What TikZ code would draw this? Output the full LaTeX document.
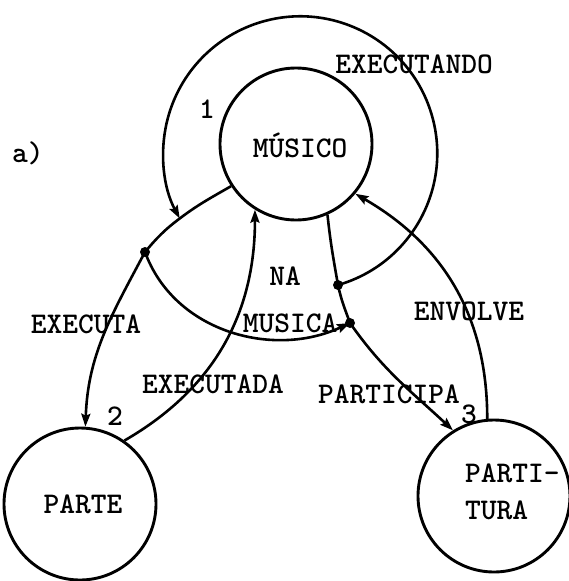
\documentclass[tikz,border=0pt]{standalone}
\usetikzlibrary{arrows.meta}
\begin{document}
\begin{tikzpicture}[x=1pt,y=1pt,
  state/.style={circle, draw, line width=2.9pt, minimum size=152pt, inner sep=0pt},
  rel/.style={line width=2.6pt},
  arr/.style={rel, -{Stealth[length=13pt,width=9pt,inset=2pt]}},
  lbl/.style={inner sep=0pt, anchor=base, font=\ttfamily\bfseries\fontsize{30}{37}\selectfont}
]
\useasboundingbox (0,0) rectangle (569,-581);

% concepts
\node[state] (musico)    at (296,-144) {};
\node[state] (parte)     at (80,-504)  {};
\node[state] (partitura) at (494,-496) {};

% junction points where relations attach to other relations
\coordinate (j1) at (145,-252);
\coordinate (j2) at (338,-285);
\coordinate (j3) at (350,-323);

% EXECUTANDO: loop around the musician, ending on the EXECUTA relation
\draw[arr] (j2) arc[start angle=-74, end angle=208.4, radius=137] coordinate (e1);

% EXECUTA
\draw[arr] (musico.-147) to[out=-150, in=37] (e1) to[out=-143, in=50] (j1)
  to[out=-118, in=88] (parte.86);

% NA MUSICA
\draw[arr] (j1) to[out=-70, in=205] (j3);

% PARTICIPA
\draw[arr] (musico.-66) to[out=-84, in=100] (j2) to[out=-78, in=110] (j3)
  to[out=-55, in=137] (partitura.122);

% EXECUTADA
\draw[arr] (parte.55) to[out=30, in=-90] (musico.-122);

% ENVOLVE
\draw[arr] (partitura.95) to[out=90, in=-30] (musico.-40);

\foreach \j in {j1,j2,j3} \fill (\j) circle[radius=5];

% texts
\node[lbl] (tag)    at (28,-162)  {a)};
\node[lbl] (n1)     at (207,-118) {1};
\node[lbl] (n2)     at (115,-425) {2};
\node[lbl] (n3)     at (469,-423) {3};
\node[lbl] (musico-name) at (300,-157) {MÚSICO};
\node[lbl] (parte-name)  at (83,-513)  {PARTE};
\node[lbl, anchor=west, align=left] (partitura-name) at (465,-492) {PARTI-\\TURA};
\node[lbl] (l-executando) at (414,-73)  {EXECUTANDO};
\node[lbl] (l-executa)    at (86,-333)  {EXECUTA};
\node[lbl] (l-na)         at (285,-285) {NA};
\node[lbl] (l-musica)     at (290,-332) {MUSICA};
\node[lbl] (l-executada)  at (213,-393) {EXECUTADA};
\node[lbl] (l-envolve)    at (469,-320) {ENVOLVE};
\node[lbl] (l-participa)  at (389,-403) {PARTICIPA};
\end{tikzpicture}
\end{document}
